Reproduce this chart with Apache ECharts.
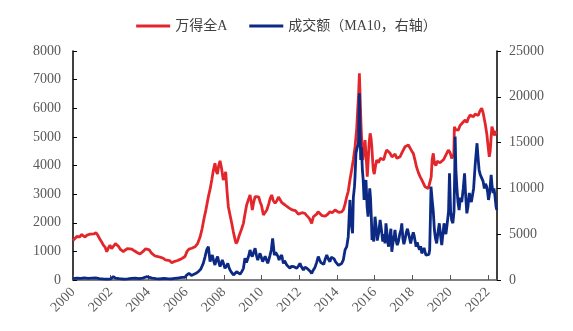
<!DOCTYPE html>
<html>
<head>
<meta charset="utf-8">
<script src="https://cdn.jsdelivr.net/npm/echarts@6/dist/echarts.min.js"></script>
<style>
html,body{margin:0;padding:0;background:#fff;}
#chart{width:573px;height:331px;}
</style>
</head>
<body>
<div id="chart"></div>
<script>
// 万得全A (left axis): time in decimal years, index values
var redDates = [
2000.00,2000.10,2000.20,2000.30,2000.37,2000.45,2000.55,2000.64,2000.75,2000.90,
2001.00,2001.10,2001.22,2001.32,2001.43,2001.52,2001.60,2001.70,2001.79,2001.88,
2001.96,2002.05,2002.15,2002.25,2002.32,2002.42,2002.50,2002.60,2002.67,2002.78,
2002.90,2003.00,2003.12,2003.25,2003.40,2003.55,2003.65,2003.75,2003.85,2003.94,
2004.05,2004.15,2004.25,2004.35,2004.50,2004.65,2004.79,2004.90,2005.00,2005.12,
2005.24,2005.35,2005.45,2005.55,2005.68,2005.80,2005.94,2006.05,2006.15,2006.30,
2006.47,2006.60,2006.74,2006.85,2006.95,2007.05,2007.18,2007.28,2007.36,2007.45,
2007.53,2007.60,2007.66,2007.73,2007.80,2007.88,2007.97,2008.04,2008.10,2008.17,
2008.24,2008.32,2008.42,2008.50,2008.60,2008.65,2008.72,2008.79,2008.86,2008.95,
2009.04,2009.12,2009.21,2009.30,2009.39,2009.45,2009.51,2009.58,2009.66,2009.75,
2009.85,2009.92,2010.00,2010.10,2010.18,2010.28,2010.38,2010.46,2010.54,2010.62,
2010.72,2010.82,2010.90,2010.98,2011.08,2011.16,2011.25,2011.35,2011.45,2011.51,
2011.62,2011.72,2011.80,2011.87,2011.95,2012.04,2012.15,2012.22,2012.30,2012.40,
2012.50,2012.58,2012.66,2012.75,2012.85,2012.92,2013.00,2013.10,2013.20,2013.28,
2013.38,2013.50,2013.63,2013.75,2013.90,2014.00,2014.10,2014.16,2014.25,2014.34,
2014.43,2014.52,2014.60,2014.69,2014.78,2014.87,2014.96,2015.05,2015.10,2015.15,
2015.19,2015.23,2015.28,2015.33,2015.37,2015.43,2015.49,2015.55,2015.61,2015.66,
2015.71,2015.76,2015.81,2015.85,2015.90,2015.93,2015.98,2016.05,2016.11,2016.20,
2016.30,2016.38,2016.48,2016.56,2016.64,2016.73,2016.82,2016.92,2017.00,2017.08,
2017.18,2017.26,2017.35,2017.45,2017.52,2017.61,2017.70,2017.79,2017.88,2017.97,
2018.05,2018.14,2018.22,2018.32,2018.41,2018.50,2018.58,2018.67,2018.76,2018.85,
2018.94,2019.00,2019.05,2019.11,2019.17,2019.25,2019.32,2019.38,2019.47,2019.56,
2019.65,2019.73,2019.82,2019.91,2020.00,2020.09,2020.15,2020.20,2020.23,2020.30,
2020.36,2020.44,2020.53,2020.62,2020.70,2020.80,2020.89,2020.97,2021.06,2021.15,
2021.24,2021.33,2021.42,2021.50,2021.58,2021.68,2021.75,2021.86,2021.95,2022.04,
2022.08,2022.13,2022.18,2022.22,2022.30,2022.35,2022.40,2022.46
];
var redValues = [
1380,1450,1520,1560,1510,1590,1540,1500,1570,1600,
1540,1610,1650,1560,1420,1330,1230,1150,990,1120,
1220,1100,1180,1270,1240,1170,1080,1050,990,1050,
1100,1070,1080,1020,960,910,970,1020,1090,1130,
1050,950,900,840,820,790,760,700,720,680,
605,640,700,680,720,760,820,1000,1080,1110,
1160,1260,1500,1800,2150,2450,2910,3200,3490,3850,
4075,3800,3700,4000,4165,3900,3490,3650,3780,3100,
2560,2300,1980,1700,1400,1280,1350,1500,1630,1800,
1980,2300,2620,2800,2970,2750,2445,2700,2910,2850,
2900,2735,2600,2270,2350,2445,2650,2850,2970,2780,
2680,2780,2900,2855,2700,2680,2620,2560,2520,2505,
2450,2400,2420,2385,2300,2270,2350,2380,2330,2250,
2180,2100,1980,2210,2150,2300,2385,2330,2250,2270,
2230,2290,2385,2350,2445,2400,2360,2330,2380,2450,
2650,2910,3100,3500,3840,4200,4650,5300,5940,6500,
7220,6400,5355,4700,4190,4500,4890,4300,3610,4200,
4800,5125,4950,4655,4100,3840,3700,4000,4190,4100,
4250,4305,4200,4400,4540,4480,4425,4300,4350,4400,
4250,4200,4305,4450,4540,4655,4680,4715,4650,4500,
4425,4190,3950,3750,3610,3500,3450,3260,3300,3200,
3260,3600,4200,4425,4075,4000,4150,4190,4100,4130,
4200,4305,4350,4540,4450,4250,4190,4400,5355,5250,
5300,5240,5400,5450,5520,5590,5500,5650,5760,5765,
5705,5800,5820,5750,5900,6000,5850,5475,5100,4540,
4305,4500,5000,5355,5200,5050,5000,5200
];
// 成交额 MA10 (right axis)
var volDates = [
2000.00,2000.20,2000.40,2000.60,2000.80,2001.00,2001.20,2001.40,2001.60,2001.80,
2002.00,2002.14,2002.25,2002.45,2002.70,2002.90,2003.10,2003.30,2003.50,2003.70,
2003.90,2004.05,2004.20,2004.40,2004.60,2004.80,2005.00,2005.20,2005.40,2005.60,
2005.80,2005.94,2006.03,2006.15,2006.28,2006.38,2006.50,2006.65,2006.78,2006.91,
2007.00,2007.09,2007.18,2007.27,2007.33,2007.39,2007.46,2007.53,2007.60,2007.67,
2007.74,2007.80,2007.86,2007.92,2008.00,2008.06,2008.14,2008.21,2008.27,2008.33,
2008.42,2008.51,2008.60,2008.68,2008.77,2008.86,2008.95,2009.04,2009.12,2009.20,
2009.27,2009.33,2009.39,2009.45,2009.51,2009.58,2009.66,2009.73,2009.80,2009.86,
2009.92,2010.00,2010.06,2010.13,2010.19,2010.26,2010.33,2010.40,2010.45,2010.52,
2010.59,2010.63,2010.68,2010.75,2010.81,2010.87,2010.93,2011.00,2011.07,2011.12,
2011.16,2011.22,2011.28,2011.35,2011.42,2011.51,2011.58,2011.65,2011.72,2011.80,
2011.87,2011.95,2012.04,2012.10,2012.16,2012.22,2012.30,2012.36,2012.42,2012.50,
2012.58,2012.66,2012.75,2012.84,2012.92,2013.01,2013.08,2013.15,2013.22,2013.30,
2013.38,2013.46,2013.54,2013.63,2013.70,2013.78,2013.85,2013.92,2013.99,2014.08,
2014.16,2014.25,2014.34,2014.43,2014.52,2014.60,2014.66,2014.69,2014.74,2014.78,
2014.83,2014.87,2014.93,2014.96,2015.01,2015.08,2015.14,2015.17,2015.19,2015.22,
2015.26,2015.30,2015.35,2015.39,2015.44,2015.49,2015.54,2015.60,2015.65,2015.70,
2015.74,2015.78,2015.83,2015.86,2015.90,2015.95,2016.02,2016.08,2016.14,2016.22,
2016.29,2016.36,2016.43,2016.50,2016.55,2016.60,2016.68,2016.73,2016.80,2016.86,
2016.91,2016.98,2017.05,2017.08,2017.14,2017.20,2017.26,2017.33,2017.40,2017.44,
2017.50,2017.55,2017.61,2017.68,2017.74,2017.79,2017.85,2017.91,2017.97,2018.05,
2018.10,2018.14,2018.20,2018.26,2018.32,2018.38,2018.44,2018.50,2018.56,2018.62,
2018.67,2018.72,2018.76,2018.82,2018.88,2018.92,2018.96,2018.99,2019.05,2019.11,
2019.17,2019.23,2019.29,2019.36,2019.43,2019.50,2019.56,2019.62,2019.68,2019.73,
2019.78,2019.84,2019.92,2019.97,2020.03,2020.09,2020.15,2020.21,2020.25,2020.27,
2020.31,2020.37,2020.42,2020.48,2020.55,2020.62,2020.70,2020.77,2020.82,2020.89,
2020.95,2021.02,2021.08,2021.13,2021.18,2021.25,2021.33,2021.39,2021.43,2021.48,
2021.54,2021.60,2021.68,2021.75,2021.82,2021.88,2021.94,2022.00,2022.04,2022.10,
2022.14,2022.18,2022.23,2022.28,2022.33,2022.38,2022.44,2022.48
];
var volValues = [
150,200,180,220,170,200,230,150,120,100,
130,360,200,150,100,120,180,200,150,200,
360,280,200,150,130,180,140,120,180,220,
290,290,545,730,500,440,700,910,1200,1820,
2500,3280,3640,2000,2400,2730,2100,1640,2200,2550,
1900,1460,1800,2180,1700,1280,1500,1820,1400,1090,
800,545,700,910,700,650,900,1280,2370,1900,
2000,2700,3280,2800,2550,3000,3460,2700,2180,2600,
2910,2400,2000,2300,2600,2200,1820,2300,2700,3300,
4550,4730,2730,3000,3100,2600,2180,2500,2730,2200,
1820,2100,1900,1600,1700,1280,1500,1700,1450,1300,
1280,1500,1820,1500,1300,1090,1400,1500,1250,1100,
950,730,1100,1400,1900,2550,2200,1900,2100,1700,
2300,2730,2300,2000,2500,2700,2300,2000,1820,1600,
1460,1800,2200,3280,3640,4730,7500,8740,6500,5820,
5100,9000,10190,11280,13830,14500,14930,18000,20390,17000,
13100,14500,12000,11000,8740,10500,10920,8000,6910,8500,
10000,9000,6500,4370,5000,4200,6910,5800,4300,5200,
6550,5500,4200,5000,4000,6190,6370,3640,4500,5600,
3090,4200,5000,5460,4300,3800,4200,5000,5500,6190,
4500,3900,4400,5200,5600,5460,4600,4000,4600,5200,
4800,4300,3640,4100,3640,3300,3700,2910,3200,3500,
3300,2700,2550,2900,2800,3300,7000,10190,8740,7500,
5460,4500,4000,5200,6190,4800,3820,5000,6190,5500,
5000,6000,7500,11650,7500,6500,6200,7500,12000,15650,
12000,9830,8500,7640,9000,8500,10000,11650,9500,7280,
8000,9500,9000,8500,8370,10000,12500,14000,14930,13500,
12010,11500,11650,10800,10000,10500,10200,9500,8740,9500,
10500,11470,10200,9500,10000,9200,8000,7640
];
var yearTicks = [2000,2002,2004,2006,2008,2010,2012,2014,2016,2018,2020,2022];
var leftTicks = [0,1000,2000,3000,4000,5000,6000,7000,8000];
var rightTicks = [0,5000,10000,15000,20000,25000];

var serif = "'Liberation Serif','Times New Roman',serif";
var chart = echarts.init(document.getElementById('chart'), null, {renderer:'canvas'});
var redData = redDates.map(function(d,i){return [d, redValues[i]];});
var volData = volDates.map(function(d,i){return [d, volValues[i]];});
function plain(v){ return String(Math.round(v)); }

chart.setOption({
  animation:false,
  backgroundColor:'#fff',
  legend:{
    top:14, left:'center',
    itemWidth:34, itemHeight:3, itemGap:22,
    icon:'rect',
    textStyle:{fontFamily:"'Liberation Serif','Noto Sans CJK SC',serif", fontSize:14, color:'#404040'},
    data:['万得全A','成交额（MA10，右轴）']
  },
  grid:{left:73, right:76, top:51, bottom:51},
  xAxis:{
    type:'value', min:2000, max:2022.49, interval:2,
    axisLine:{show:true, lineStyle:{color:'#555', width:1.5}},
    axisTick:{show:true, inside:true, length:5, lineStyle:{color:'#555'}},
    splitLine:{show:false},
    axisLabel:{
      rotate:45, margin:10, fontFamily:serif, fontSize:14, color:'#595959',
      showMaxLabel:false,
      formatter:function(v){
        var r = Math.round(v);
        return (Math.abs(v-r)<1e-6 && yearTicks.indexOf(r)>=0) ? String(r) : '';
      }
    }
  },
  yAxis:[{
    type:'value', min:leftTicks[0], max:leftTicks[leftTicks.length-1], interval:1000,
    axisLine:{show:true, lineStyle:{color:'#000', width:1.5}},
    axisTick:{show:true, inside:true, length:4, lineStyle:{color:'#000'}},
    splitLine:{show:false},
    axisLabel:{margin:12, fontFamily:serif, fontSize:14, color:'#595959', formatter:plain}
  },{
    type:'value', min:rightTicks[0], max:rightTicks[rightTicks.length-1], interval:5000,
    position:'right',
    axisLine:{show:true, lineStyle:{color:'#000', width:1.5}},
    axisTick:{show:true, inside:false, length:4, lineStyle:{color:'#000'}},
    splitLine:{show:false},
    axisLabel:{margin:12, fontFamily:serif, fontSize:14, color:'#595959', formatter:plain}
  }],
  series:[{
    name:'万得全A', type:'line', yAxisIndex:0, data:redData,
    showSymbol:false, symbol:'none', smooth:false,
    lineStyle:{color:'#E3262B', width:2.8}, itemStyle:{color:'#E3262B'}
  },{
    name:'成交额（MA10，右轴）', type:'line', yAxisIndex:1, data:volData,
    showSymbol:false, symbol:'none', smooth:false,
    lineStyle:{color:'#0C2A84', width:2.8}, itemStyle:{color:'#0C2A84'}
  }]
});
</script>
</body>
</html>
